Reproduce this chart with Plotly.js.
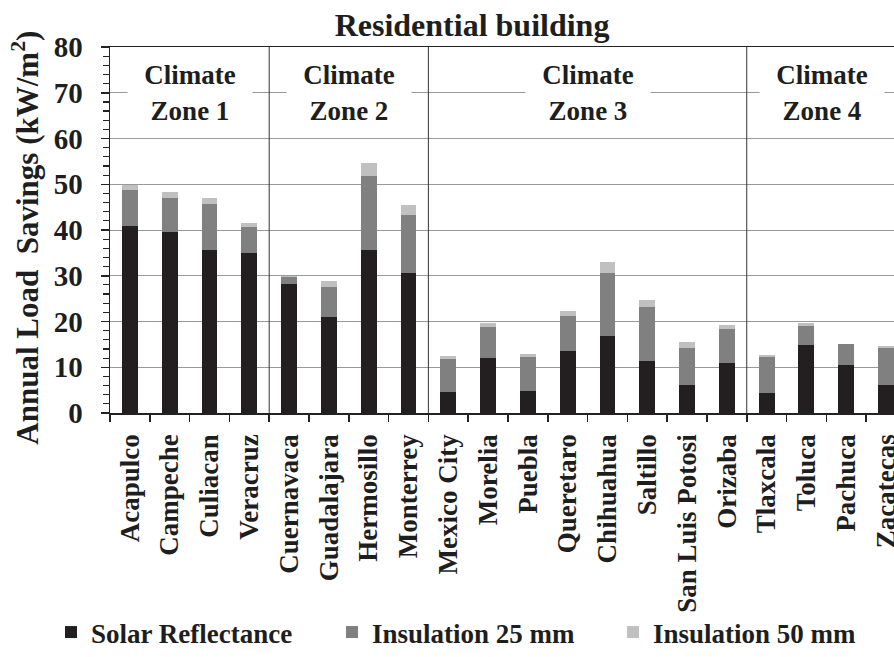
<!DOCTYPE html>
<html>
<head>
<meta charset="utf-8">
<script src="https://cdn.plot.ly/plotly-3.0.1.min.js"></script>
<style>html,body{margin:0;padding:0;background:#fff;}#chart{width:894px;height:657px;}</style>
</head>
<body>
<div id="chart"></div>
<script>
const cities = ["Acapulco","Campeche","Culiacan","Veracruz","Cuernavaca","Guadalajara","Hermosillo","Monterrey","Mexico City","Morelia","Puebla","Queretaro","Chihuahua","Saltillo","San Luis Potosi","Orizaba","Tlaxcala","Toluca","Pachuca","Zacatecas"];
const solarReflectance = [40.8,39.5,35.6,35.0,28.2,21.0,35.6,30.7,4.7,12.1,4.9,13.5,16.8,11.4,6.1,11.0,4.3,14.8,10.6,6.1];
const insulation25 = [7.9,7.6,10.1,5.6,1.6,6.6,16.2,12.5,7.2,6.8,7.3,7.6,13.9,11.7,8.1,7.4,7.9,4.3,4.4,8.0];
const insulation50 = [1.1,1.3,1.3,1.0,0.1,1.2,2.8,2.2,0.5,0.7,0.6,1.1,2.4,1.7,1.3,0.9,0.5,0.5,0.1,0.6];
const seriesNames = ["Solar Reflectance","Insulation 25 mm","Insulation 50 mm"];
const zoneLabels = ["Climate<br>Zone 1","Climate<br>Zone 2","Climate<br>Zone 3","Climate<br>Zone 4"];
const zoneCenters = [1.5, 5.5, 11.5, 17.4];
const zoneDividers = [3.5, 7.5, 15.5];
const yTitle = "Annual Load  Savings (kW/m<sup>2</sup>)";

const FONT = "Liberation Serif, Times New Roman, serif";
const INK = "#1e1e1e";
const colors = ["#231f20","#808080","#c0c0c0"];
const vals = [solarReflectance, insulation25, insulation50];

const traces = vals.map((v,i)=>({
  type:'bar', x: cities, y: v, name: seriesNames[i],
  marker:{color: colors[i], line:{width:0}}
}));

const shapes = zoneDividers.map(d=>({
  type:'line', xref:'x', yref:'y', x0:d, x1:d, y0:0, y1:80,
  line:{color:'#333', width:1}
}));

const annotations = zoneLabels.map((t,i)=>({
  text:t, xref:'x', yref:'y', x: zoneCenters[i], y:70,
  showarrow:false, bgcolor:'#ffffff', width:124, height:62, borderpad:0,
  font:{family:FONT, size:27, color:INK, weight:'bold'}
}));
annotations.push({
  text:yTitle, xref:'paper', yref:'paper', x:-0.108, y:0.48,
  xanchor:'center', yanchor:'middle', textangle:-90, showarrow:false,
  font:{family:FONT, size:31, color:INK, weight:'bold'}
});

const layout = {
  width:894, height:657,
  margin:{l:110, r:0, t:47, b:239},
  paper_bgcolor:'#fff', plot_bgcolor:'#fff',
  font:{family:FONT, weight:'bold', color:INK},
  barmode:'stack', bargap:0.6,
  showlegend:true,
  title:{text:'Residential building', x:0.528, xref:'container', xanchor:'center', y:0.963, yref:'container', yanchor:'middle',
    font:{family:FONT, size:32, weight:'bold', color:INK}},
  xaxis:{
    type:'category', range:[-0.5, 19.2], tickangle:-90, tickson:'boundaries',
    ticks:'outside', ticklen:7, tickcolor:'#222', tickwidth:1.5,
    showline:true, linecolor:'#222', linewidth:1.5, mirror:true,
    showgrid:false, ticklabelstandoff:9,
    tickfont:{family:FONT, size:27, weight:'bold', color:INK}
  },
  yaxis:{
    range:[0,80], dtick:10, tick0:0,
    ticks:'outside', ticklen:8, tickcolor:'#222', tickwidth:1.5,
    minor:{dtick:2, ticks:'outside', ticklen:6, tickcolor:'#222', tickwidth:1.2, showgrid:false},
    showline:true, linecolor:'#222', linewidth:1.5,
    showgrid:true, gridcolor:'#9a9a9a', gridwidth:1,
    zeroline:false, ticklabelstandoff:12,
    tickfont:{family:FONT, size:29, weight:'bold', color:INK}
  },
  legend:{orientation:'h', x:-0.075, xanchor:'left', y:-0.6, yanchor:'middle',
    bgcolor:'rgba(0,0,0,0)', tracegroupgap:0,
    entrywidth:236, entrywidthmode:'pixels', traceorder:'normal',
    font:{family:FONT, size:27, weight:'bold', color:INK}, itemclick:false},
  shapes:shapes, annotations:annotations
};

Plotly.newPlot('chart', traces, layout, {displayModeBar:false, staticPlot:true});
</script>
</body>
</html>
